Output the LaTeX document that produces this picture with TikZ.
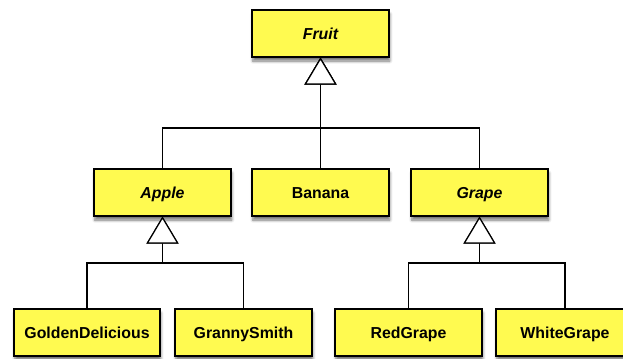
\documentclass[tikz,border=0pt]{standalone}
\usepackage{fontspec}
\setmainfont{Liberation Sans}
\usetikzlibrary{arrows.meta,shadows.blur}
\definecolor{classyellow}{RGB}{255,250,80}
\begin{document}
\begin{tikzpicture}
  [x=0.75pt,y=-0.75pt,
   every node/.style={rectangle,draw=black,line width=0.9pt,fill=classyellow,
     minimum width=102.75pt,minimum height=35.25pt,inner sep=0pt,
     text height=8.8pt,text depth=0pt,
     font=\fontsize{11.9}{14}\selectfont\bfseries,
     blur shadow={shadow xshift=0.6pt,shadow yshift=-3pt,shadow blur steps=6,shadow opacity=55}},
   abstract/.style={font=\fontsize{11.9}{14}\selectfont\bfseries\itshape},
   isa/.style={draw=black,line width=0.9pt,
     -{Triangle[open,fill=white,length=20.25pt,width=24pt,line width=0.9pt]}}]

  \clip (0,0) rectangle (623,358);

  \node[abstract] (fruit) at (320.5,33.5) {Fruit};
  \node[abstract] (apple) at (162.5,192.5) {Apple};
  \node (banana) at (320.5,192.5) {Banana};
  \node[abstract] (grape) at (479.5,192.5) {Grape};
  \node[minimum width=109.5pt] (golden) at (87,332.5) {GoldenDelicious};
  \node (granny) at (243.5,332.5) {GrannySmith};
  \node[minimum width=110.25pt] (redgrape) at (408.5,332.5) {RedGrape};
  \node[minimum width=103.5pt] (whitegrape) at (565,332.5) {WhiteGrape};

  \coordinate (fruit-bar) at (320.5,128);
  \coordinate (apple-bar) at (162.5,263);
  \coordinate (grape-bar) at (479.5,263);

  \foreach \from/\to in {apple/fruit,banana/fruit,grape/fruit,
                         golden/apple,granny/apple,redgrape/grape,whitegrape/grape}
    \draw[isa] (\from.north) |- (\to-bar) -- (\to.south);
\end{tikzpicture}
\end{document}
